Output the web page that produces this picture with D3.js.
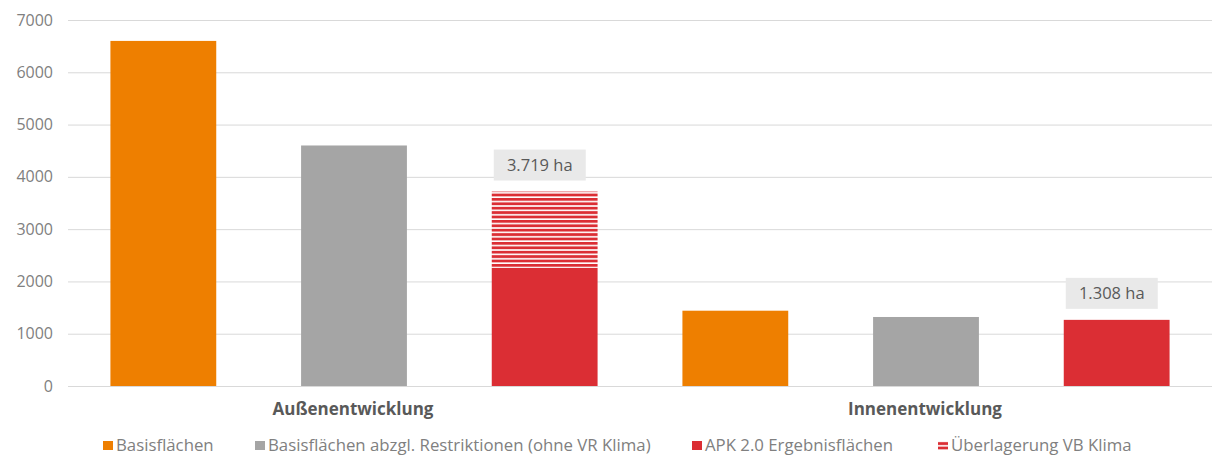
<!DOCTYPE html>
<html>
<head>
<meta charset="utf-8">
<script src="https://cdn.jsdelivr.net/npm/d3@7"></script>
<style>
  body { margin: 0; background: #fff; }
  text { font-family: "Open Sans", Lato, sans-serif; }
</style>
</head>
<body>
<div id="chart"></div>
<script>
// Data
const categories = ["Außenentwicklung", "Innenentwicklung"];
const seriesNames = ["Basisflächen", "Basisflächen abzgl. Restriktionen (ohne VR Klima)", "APK 2.0 Ergebnisflächen"];
const basisValues = [6600, 1440];
const restrValues = [4600, 1320];
const apkValues = [2260, 1265];
const overlayValues = [1459, 0];
const totalLabels = ["3.719 ha", "1.308 ha"];
const yTicks = [0, 1000, 2000, 3000, 4000, 5000, 6000, 7000];
const legendNames = ["Basisflächen", "Basisflächen abzgl. Restriktionen (ohne VR Klima)", "APK 2.0 Ergebnisflächen", "Überlagerung VB Klima"];

const colors = ["#ee7f00", "#a5a5a5", "#db2e34"];

const width = 1212, height = 456;
const margin = { top: 20, right: 0, bottom: 70, left: 68 };

const svg = d3.select("#chart")
    .append("svg")
    .attr("width", width)
    .attr("height", height);

// hatch pattern for overlay
const defs = svg.append("defs");
const pat = defs.append("pattern")
    .attr("id", "hatch")
    .attr("patternUnits", "userSpaceOnUse")
    .attr("width", 8)
    .attr("height", 4.4);
pat.append("rect").attr("width", 8).attr("height", 4.4).attr("fill", "#ffffff");
pat.append("rect").attr("width", 8).attr("height", 2.8).attr("fill", colors[2]);

// scales
const y = d3.scaleLinear()
    .domain([0, 7000])
    .range([height - margin.bottom, margin.top]);

const x0 = d3.scaleBand()
    .domain(categories)
    .range([margin.left, width - margin.right]);

const x1 = d3.scaleBand()
    .domain(seriesNames)
    .range([0, x0.bandwidth()])
    .paddingInner(0.445)
    .paddingOuter(0.2225);

// gridlines + y labels
const yAxis = d3.axisLeft(y)
    .tickValues(yTicks)
    .tickFormat(d3.format("d"))
    .tickSize(-(width - margin.left - margin.right))
    .tickPadding(15);

const gy = svg.append("g")
    .attr("transform", `translate(${margin.left},0)`)
    .call(yAxis);
gy.select(".domain").remove();
gy.selectAll(".tick line").attr("stroke", "#d9d9d9").attr("stroke-width", 1);
gy.selectAll(".tick text")
    .attr("fill", "#808080")
    .style("font-size", "16px");

// bars
const rows = categories.map((c, i) => ({
    cat: c,
    vals: [basisValues[i], restrValues[i], apkValues[i]],
    overlay: overlayValues[i],
    label: totalLabels[i]
}));

const groups = svg.append("g")
    .selectAll("g")
    .data(rows)
    .join("g")
    .attr("transform", d => `translate(${x0(d.cat)},0)`);

groups.selectAll("rect.bar")
    .data(d => d.vals.map((v, j) => ({ name: seriesNames[j], value: v, j })))
    .join("rect")
    .attr("class", "bar")
    .attr("x", d => x1(d.name))
    .attr("y", d => y(d.value))
    .attr("width", x1.bandwidth())
    .attr("height", d => y(0) - y(d.value))
    .attr("fill", d => colors[d.j]);

// overlay (hatched) on top of APK bar
groups.filter(d => d.overlay > 0)
    .append("rect")
    .attr("x", x1(seriesNames[2]))
    .attr("y", d => y(d.vals[2] + d.overlay))
    .attr("width", x1.bandwidth())
    .attr("height", d => y(d.vals[2]) - y(d.vals[2] + d.overlay))
    .attr("fill", "url(#hatch)");

// total label boxes
const lab = groups.append("g")
    .attr("transform", d => `translate(${x1(seriesNames[2]) + 2},${y(d.vals[2] + d.overlay) - 42})`);
lab.append("rect")
    .attr("width", 92)
    .attr("height", 31)
    .attr("fill", "#e9e9e9");
lab.append("text")
    .attr("x", 46)
    .attr("y", 21)
    .attr("text-anchor", "middle")
    .attr("fill", "#595959")
    .style("font-size", "16.5px")
    .text(d => d.label);

// category labels
svg.append("g")
    .selectAll("text")
    .data(categories)
    .join("text")
    .attr("x", d => x0(d) + x0.bandwidth() / 2 - 1)
    .attr("y", 415)
    .attr("text-anchor", "middle")
    .attr("fill", "#595959")
    .style("font-size", "17px")
    .style("font-weight", "bold")
    .text(d => d);

// legend
const legendX = [103, 255, 692, 938];
const legend = svg.append("g")
    .selectAll("g")
    .data(legendNames)
    .join("g")
    .attr("transform", (d, i) => `translate(${legendX[i]},451)`);

legend.each(function(d, i) {
    const g = d3.select(this);
    g.append("rect")
        .attr("x", 0).attr("y", -10)
        .attr("width", 10).attr("height", 9)
        .attr("fill", i < 3 ? colors[i] : "url(#hatch)");
    g.append("text")
        .attr("x", 13)
        .attr("y", 0)
        .attr("fill", "#808080")
        .style("font-size", "16.8px")
        .text(d);
});
</script>
</body>
</html>
